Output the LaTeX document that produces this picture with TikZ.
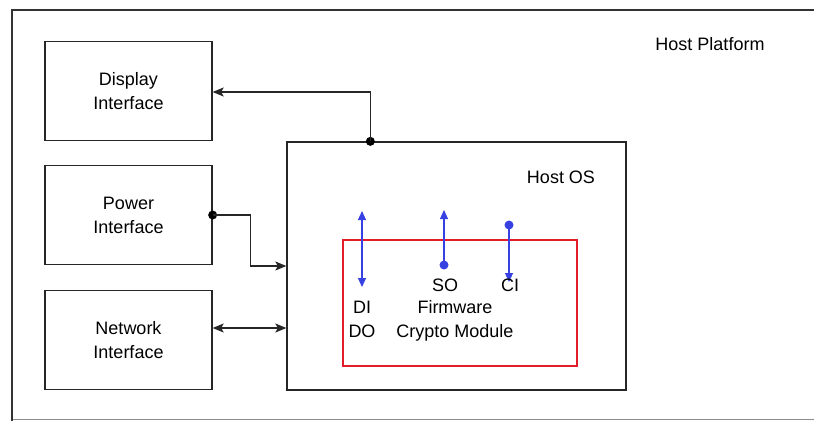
\documentclass[tikz,border=0pt]{standalone}
\usepackage{fontspec}
\setmainfont{Liberation Sans}
\usetikzlibrary{arrows.meta}
\usetikzlibrary{positioning}
\definecolor{pinblue}{RGB}{55,65,225}
\definecolor{modred}{RGB}{228,30,40}
\tikzset{
 box/.style={draw=black!85, line width=1.3pt, align=center, font=\fontsize{18}{24}\selectfont, minimum width=167, minimum height=99},
 lbl/.style={font=\fontsize{18}{24}\selectfont, inner sep=0},
 pin/.style={draw=pinblue, line width=1.1pt},
 wire/.style={draw=black!85, line width=1.3pt},
 tip/.style={>={Stealth[length=11pt, width=9pt, inset=2.5pt]}},
}
\begin{document}
\begin{tikzpicture}[x=1pt, y=-1pt]
\useasboundingbox (0,0) rectangle (814,421);
\fill[white] (0,0) rectangle (814,421);
% host platform frame
\draw[black!50!gray!60, line width=1pt] (12,419.5) -- (814,419.5);
\draw[black!80, line width=2.4pt] (12,421) -- (12,10) -- (814,10);
\node[lbl] (platform) at (710,44) {Host Platform};

% interfaces
\node[box] (disp) at (128.5,91) {Display\\Interface};
\node[box] (power) at (128.5,215) {Power\\Interface};
\node[box] (net) at (128.5,340) {Network\\Interface};

% host os and module
\node[draw=black!85, line width=1.3pt, minimum width=339, minimum height=248] (hostos) at (456.5,266) {};
\node[lbl] (oslbl) at (561,177) {Host OS};
\node[draw=modred, line width=2.4pt, minimum width=234, minimum height=126] (module) at (460,303) {};
\node[lbl, align=center] (fw) at (455,321) {Firmware\\Crypto Module};

% connectors
\path (hostos.north west) ++(84,0) coordinate (dotD);
\fill (dotD) circle (4.5);
\draw[wire, tip, ->] (dotD) |- ([yshift=-1pt]disp.east);
\fill (power.east) circle (4.5);
\draw[wire, tip, ->] (power.east) -- ++(38,0) |- (hostos.west);
\draw[wire, tip, <->] ([yshift=12pt]net.east) -- ([yshift=12pt]net.east -| hostos.west);

% module pins
\coordinate (ditop) at (362,211);
\coordinate (dibot) at (362,287);
\coordinate (sodot) at (444,265);
\coordinate (sotop) at (444,210);
\coordinate (cidot) at (509,225);
\coordinate (cibot) at (509,282);
\draw[pin, {Triangle[length=9pt, width=8pt]}-{Triangle[length=9pt, width=8pt]}] (ditop) -- (dibot);
\draw[pin, -{Triangle[length=9pt, width=8pt]}] (sodot) -- (sotop);
\draw[pin, -{Triangle[length=9pt, width=8pt]}] (cidot) -- (cibot);
\fill[pinblue] (sodot) circle (4.5);
\fill[pinblue] (cidot) circle (4.5);
\node[lbl] (so) at (445,285) {SO};
\node[lbl] (ci) at (510,285) {CI};
\node[lbl] (di) at (362,307) {DI};
\node[lbl] (do) at (362,331) {DO};
\end{tikzpicture}
\end{document}
